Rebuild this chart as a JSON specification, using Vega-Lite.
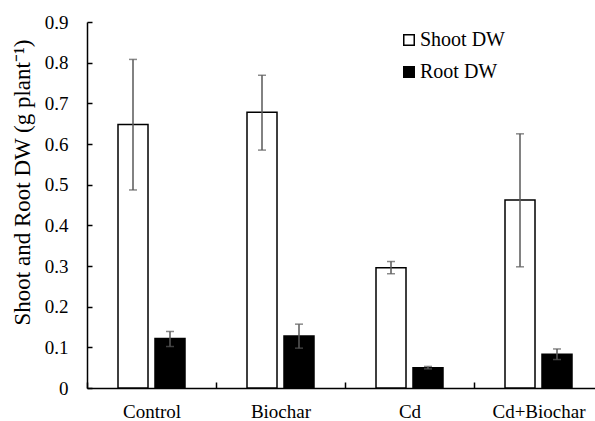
{
  "$schema": "https://vega.github.io/schema/vega-lite/v6.json",
  "width": 516,
  "height": 366,
  "autosize": {"type": "none"},
  "padding": {"left": 87, "top": 22, "right": 0, "bottom": 33},
  "background": "white",
  "config": {
    "view": {"stroke": null},
    "font": "Liberation Serif",
    "axis": {"grid": false, "domainColor": "black", "domainWidth": 1.5, "tickColor": "black", "tickWidth": 1.5, "labelColor": "black", "titleColor": "black", "labelFont": "Liberation Serif", "titleFont": "Liberation Serif"},
    "legend": {"labelFont": "Liberation Serif"}
  },
  "data": {
    "values": [
      {"treatment": "Control", "series": "Shoot DW", "value": 0.648, "lo": 0.487, "hi": 0.808},
      {"treatment": "Control", "series": "Root DW", "value": 0.122, "lo": 0.102, "hi": 0.139},
      {"treatment": "Biochar", "series": "Shoot DW", "value": 0.678, "lo": 0.585, "hi": 0.769},
      {"treatment": "Biochar", "series": "Root DW", "value": 0.128, "lo": 0.098, "hi": 0.157},
      {"treatment": "Cd", "series": "Shoot DW", "value": 0.296, "lo": 0.281, "hi": 0.311},
      {"treatment": "Cd", "series": "Root DW", "value": 0.05, "lo": 0.047, "hi": 0.053},
      {"treatment": "Cd+Biochar", "series": "Shoot DW", "value": 0.462, "lo": 0.298, "hi": 0.625},
      {"treatment": "Cd+Biochar", "series": "Root DW", "value": 0.083, "lo": 0.07, "hi": 0.096}
    ]
  },
  "encoding": {
    "x": {
      "field": "treatment", "type": "nominal", "sort": ["Control", "Biochar", "Cd", "Cd+Biochar"],
      "scale": {"paddingInner": 0, "paddingOuter": 0},
      "axis": {"title": null, "labelAngle": 0, "labelFontSize": 19, "tickBand": "extent", "tickSize": -6, "labelPadding": 20}
    },
    "xOffset": {
      "field": "series", "type": "nominal", "sort": ["Shoot DW", "Root DW"],
      "scale": {"paddingInner": 0.189, "paddingOuter": 0.838}
    }
  },
  "layer": [
    {
      "mark": {"type": "bar", "stroke": "black", "strokeWidth": 1.5},
      "encoding": {
        "y": {
          "field": "value", "type": "quantitative",
          "scale": {"domain": [0, 0.9], "nice": false},
          "axis": {"values": [0, 0.1, 0.2, 0.3, 0.4, 0.5, 0.6, 0.7, 0.8, 0.9], "format": ".1~f", "labelFontSize": 19, "tickSize": -5, "labelPadding": 24, "title": "Shoot and Root DW (g plant⁻¹)", "titleFontSize": 23, "titleFontWeight": "normal", "titlePadding": 10, "titleY": 160}
        },
        "fill": {
          "field": "series", "type": "nominal", "sort": ["Shoot DW", "Root DW"],
          "scale": {"domain": ["Shoot DW", "Root DW"], "range": ["white", "black"]},
          "legend": {"title": null, "orient": "none", "legendX": 312, "legendY": 8, "labelFontSize": 20, "labelColor": "black", "symbolType": "square", "symbolSize": 110, "symbolStrokeColor": "black", "symbolStrokeWidth": 1.5, "rowPadding": 12, "labelOffset": 1}
        }
      }
    },
    {
      "mark": {"type": "rule", "color": "#595959", "strokeWidth": 1.5},
      "encoding": {
        "y": {"field": "lo", "type": "quantitative"},
        "y2": {"field": "hi"}
      }
    },
    {
      "mark": {"type": "tick", "color": "#595959", "thickness": 1.5, "size": 8},
      "encoding": {"y": {"field": "lo", "type": "quantitative"}}
    },
    {
      "mark": {"type": "tick", "color": "#595959", "thickness": 1.5, "size": 8},
      "encoding": {"y": {"field": "hi", "type": "quantitative"}}
    }
  ]
}
